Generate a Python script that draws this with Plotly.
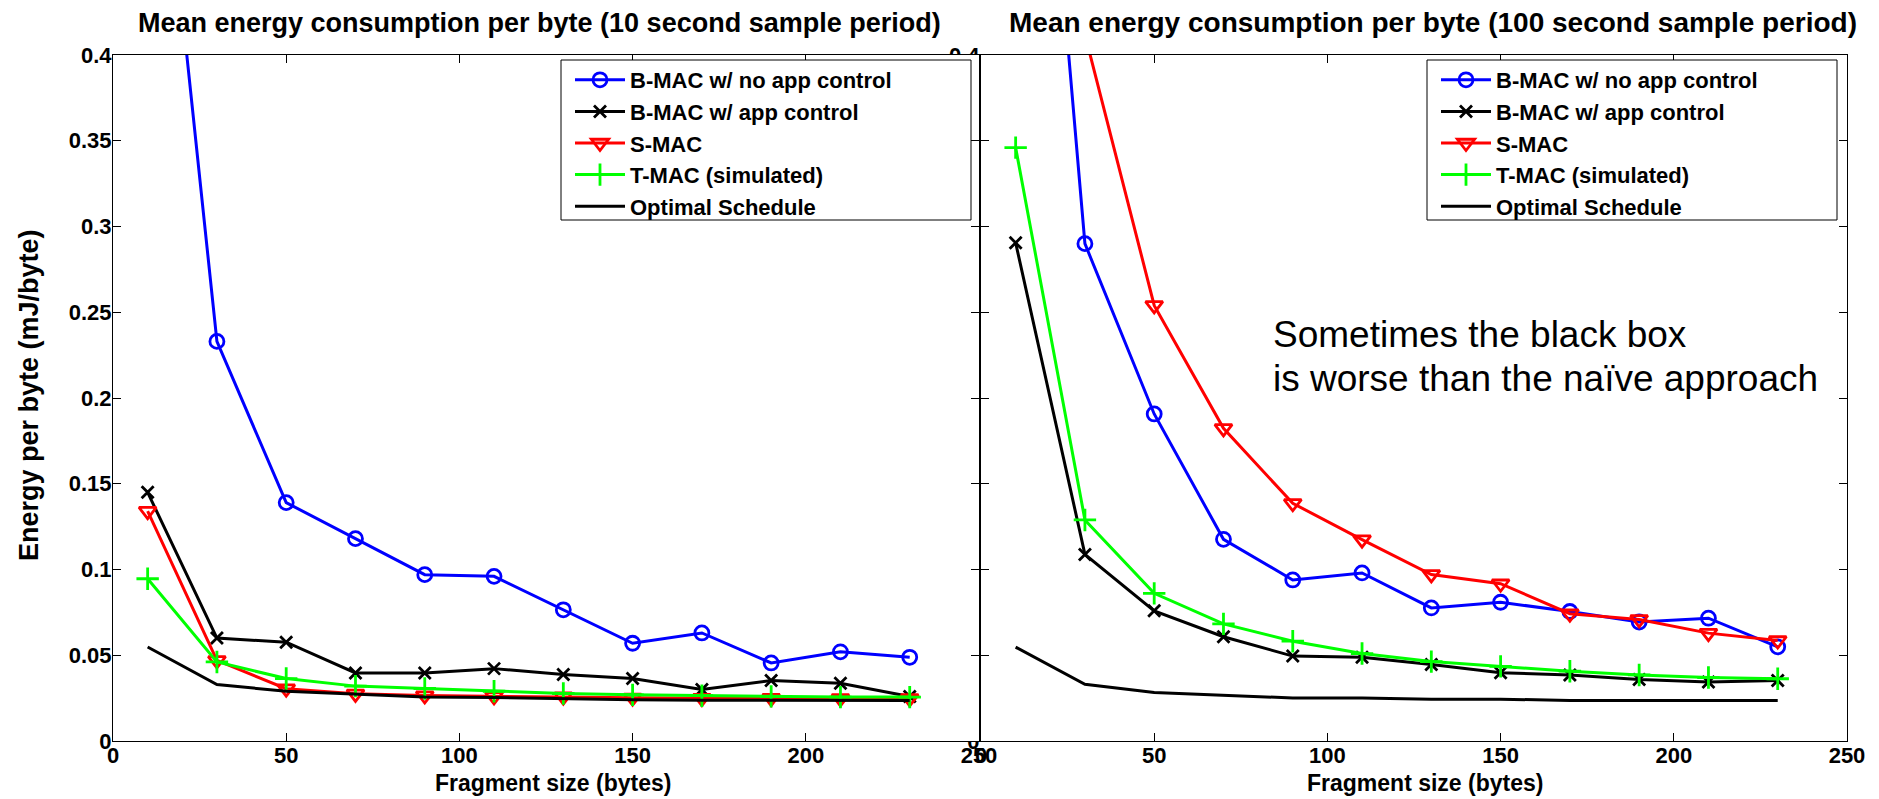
import plotly.graph_objects as go

# Fragment sizes (bytes)
frag_size = [10, 30, 50, 70, 90, 110, 130, 150, 170, 190, 210, 230]

# 10 second sample period (mJ/byte)
bmac_noctl_10 = [0.617, 0.233, 0.139, 0.118, 0.097, 0.096, 0.0765, 0.057, 0.063, 0.0455, 0.052, 0.0488]
bmac_ctl_10 = [0.145, 0.060, 0.0576, 0.0397, 0.0397, 0.0422, 0.0388, 0.0364, 0.030, 0.0353, 0.0337, 0.026]
smac_10 = [0.134, 0.047, 0.0305, 0.0275, 0.0265, 0.026, 0.0258, 0.0252, 0.025, 0.025, 0.0248, 0.0248]
tmac_10 = [0.0946, 0.0461, 0.0364, 0.032, 0.0306, 0.029, 0.0277, 0.0269, 0.0264, 0.026, 0.0256, 0.0256]
opt_10 = [0.0548, 0.0329, 0.029, 0.0271, 0.0256, 0.0254, 0.0245, 0.024, 0.0238, 0.0237, 0.0236, 0.0236]

# 100 second sample period (mJ/byte)
bmac_noctl_100 = [0.76, 0.290, 0.1907, 0.1176, 0.0939, 0.098, 0.0776, 0.0809, 0.0755, 0.0694, 0.0716, 0.0549]
bmac_ctl_100 = [0.2905, 0.1088, 0.0759, 0.0608, 0.0495, 0.0489, 0.0446, 0.0398, 0.0385, 0.0359, 0.0344, 0.0353]
smac_100 = [0.9, 0.412, 0.254, 0.1823, 0.1386, 0.1174, 0.0971, 0.0917, 0.0742, 0.0709, 0.0629, 0.0586]
tmac_100 = [0.346, 0.1289, 0.0861, 0.0683, 0.0582, 0.051, 0.0463, 0.0435, 0.0407, 0.0385, 0.037, 0.0363]
opt_100 = [0.0547, 0.0331, 0.0283, 0.0268, 0.0251, 0.0251, 0.0244, 0.0244, 0.0236, 0.0236, 0.0236, 0.0236]

series_names = ["B-MAC w/ no app control", "B-MAC w/ app control", "S-MAC",
                "T-MAC (simulated)", "Optimal Schedule"]

x_range = [0, 250]
y_range = [0, 0.4]

FONT = "Liberation Sans, Arial, Helvetica, sans-serif"

# colour, marker symbol, marker size for each series
styles = [
    ("#0000ff", "circle-open", 14),
    ("#000000", "x-thin-open", 12),
    ("#ff0000", "triangle-down-open", 15),
    ("#00ff00", "cross-thin-open", 16),
    ("#000000", None, 0),
]


def add_series(fig, ys, xaxis, yaxis, legend):
    for name, y, (color, symbol, size) in zip(series_names, ys, styles):
        mode = "lines+markers" if symbol else "lines"
        marker = dict(symbol=symbol, size=size, color=color,
                      line=dict(color=color, width=2.8)) if symbol else None
        fig.add_trace(go.Scatter(x=frag_size, y=y, name=name, mode=mode,
                                 line=dict(color=color, width=3), marker=marker,
                                 xaxis=xaxis, yaxis=yaxis, legend=legend))


fig = go.Figure()

# right panel (100 s) on x/y so that the left panel is drawn on top of it
add_series(fig, [bmac_noctl_100, bmac_ctl_100, smac_100, tmac_100, opt_100], "x", "y", "legend2")

# left panel (10 s): white backing hides the right axis' tick labels, like the original
fig.add_trace(go.Scatter(x=[x_range[0], x_range[1], x_range[1], x_range[0]],
                         y=[y_range[0], y_range[0], y_range[1], y_range[1]],
                         fill="toself", fillcolor="white", mode="lines",
                         line=dict(width=0), hoverinfo="skip", showlegend=False,
                         xaxis="x2", yaxis="y2"))
add_series(fig, [bmac_noctl_10, bmac_ctl_10, smac_10, tmac_10, opt_10], "x2", "y2", "legend")

# pixel layout of the original figure
W, H = 1879, 799
L, R, T, B = 105, 1839, 47, 733
pw, ph = R - L, B - T


def px(x):
    return (x - L) / pw


def py(y):
    return (B - y) / ph


tick_font = dict(family=FONT, size=22, color="black", weight="bold")
axis_common = dict(showline=True, linecolor="black", linewidth=1, mirror="ticks",
                   ticks="inside", ticklen=8, tickwidth=1, tickcolor="black",
                   showgrid=False, zeroline=False, tickfont=tick_font)

xticks = [0, 50, 100, 150, 200, 250]
legend_common = dict(xanchor="left", yanchor="top", bgcolor="rgba(0,0,0,0)",
                     borderwidth=0, tracegroupgap=0, itemwidth=50,
                     font=dict(family=FONT, size=22, color="black", weight="bold"))

# legend frames drawn as boxes (left edge, right edge) in pixels
legend_boxes = [(553, 963), (1419, 1829)]
box_top, box_bottom = 52, 212

fig.update_layout(
    width=W, height=H,
    margin=dict(l=L, r=W - R, t=T, b=H - B),
    paper_bgcolor="white", plot_bgcolor="white",
    xaxis=dict(domain=[px(973), 1], anchor="y", range=x_range, tickvals=xticks,
               ticklabelstandoff=-5, **axis_common),
    yaxis=dict(domain=[0, 1], anchor="x", range=y_range, dtick=0.05,
               ticklabelstandoff=-4, **axis_common),
    xaxis2=dict(domain=[0, px(971)], anchor="y2", range=x_range, tickvals=xticks,
                ticklabelstandoff=-5, **axis_common),
    yaxis2=dict(domain=[0, 1], anchor="x2", range=y_range, dtick=0.05,
                ticklabelstandoff=-4, **axis_common),
    legend=dict(x=px(legend_boxes[0][0] + 9), y=py(box_top - 1), **legend_common),
    legend2=dict(x=px(legend_boxes[1][0] + 9), y=py(box_top - 1), **legend_common),
    showlegend=True,
)

for x0, x1 in legend_boxes:
    fig.add_shape(type="rect", xref="paper", yref="paper",
                  x0=px(x0), x1=px(x1), y0=py(box_bottom), y1=py(box_top),
                  fillcolor="white", line=dict(color="black", width=1), layer="above")

bold = dict(family=FONT, color="black", weight="bold")
annotations = [
    dict(text="Mean energy consumption per byte (10 second sample period)",
         x=px(531), y=py(15), font=dict(size=27, **bold)),
    dict(text="Mean energy consumption per byte (100 second sample period)",
         x=px(1425), y=py(15), font=dict(size=28, **bold)),
    dict(text="Fragment size (bytes)", x=px(545), y=py(775), font=dict(size=23, **bold)),
    dict(text="Fragment size (bytes)", x=px(1417), y=py(775), font=dict(size=23, **bold)),
    dict(text="Energy per byte (mJ/byte)", x=px(21), y=py(387), textangle=-90,
         font=dict(size=27, **bold)),
    # callout on the right panel, one line at a time
    dict(text="Sometimes the black box", x=px(1263), y=py(326), xanchor="left",
         font=dict(family=FONT, size=37, color="black")),
    dict(text="is worse than the naïve approach", x=px(1263), y=py(370), xanchor="left",
         font=dict(family=FONT, size=37, color="black")),
]
for a in annotations:
    a.setdefault("xanchor", "center")
    fig.add_annotation(xref="paper", yref="paper", showarrow=False,
                       yanchor="middle", **a)

fig.write_html("out.html")
